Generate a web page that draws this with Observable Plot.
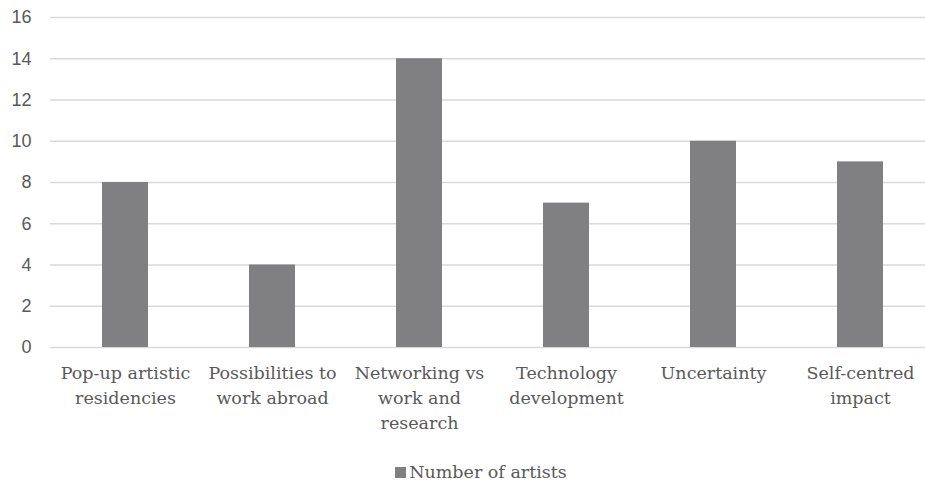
<!DOCTYPE html>
<html>
<head>
<meta charset="utf-8">
<script src="https://cdn.jsdelivr.net/npm/d3@7"></script>
<script src="https://cdn.jsdelivr.net/npm/@observablehq/plot@0.6"></script>
<style>
  html, body { margin: 0; padding: 0; background: #fff; }
  #legend { position: absolute; left: 0; top: 460px; width: 962px; text-align: center;
    font-family: "DejaVu Serif", serif; font-size: 17.5px; color: #595959; line-height: 24px; }
  #legend .sw { display: inline-block; width: 11px; height: 11px; background: #808083; margin-right: 3px; vertical-align: 0px; }
</style>
</head>
<body>
<div id="chart"></div>
<div id="legend"><span class="sw"></span>Number of artists</div>
<script>
const categories = ["Pop-up artistic residencies", "Possibilities to work abroad", "Networking vs work and research", "Technology development", "Uncertainty", "Self-centred impact"];
const tickLabels = ["Pop-up artistic\nresidencies", "Possibilities to\nwork abroad", "Networking vs\nwork and\nresearch", "Technology\ndevelopment", "Uncertainty", "Self-centred\nimpact"];
const values = [8, 4, 14, 7, 10, 9];
const yTicks = [0, 2, 4, 6, 8, 10, 12, 14, 16];
const seriesName = "Number of artists";

const data = categories.map((c, i) => ({category: c, value: values[i]}));
const labelOf = new Map(categories.map((c, i) => [c, tickLabels[i]]));

const chart = Plot.plot({
  width: 925,
  height: 448,
  marginLeft: 50,
  marginRight: 0,
  marginTop: 17,
  marginBottom: 101,
  style: {background: "#fff"},
  x: {domain: categories, range: [50, 934], paddingInner: 0.688, paddingOuter: 0.344, label: null},
  y: {domain: [0, 16], label: null},
  marks: [
    Plot.gridY(yTicks, {stroke: "#d9d9d9", strokeOpacity: 1, strokeWidth: 1.3}),
    Plot.barY(data, {x: "category", y: "value", fill: "#808083"}),
    Plot.axisY(yTicks, {tickSize: 0, tickPadding: 19, fontSize: 18, fontFamily: "Liberation Sans, sans-serif", fill: "#595959"}),
    Plot.axisX({tickSize: 0, tickPadding: 14, fontSize: 17.5, lineHeight: 1.43, fontFamily: "DejaVu Serif, serif", fill: "#595959", tickFormat: d => labelOf.get(d)})
  ]
});
document.getElementById("chart").appendChild(chart);
</script>
</body>
</html>
